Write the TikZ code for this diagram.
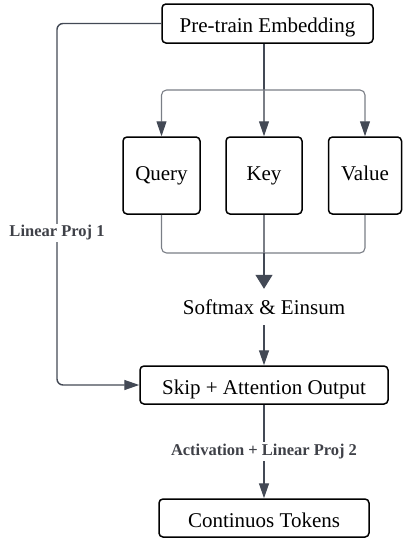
\documentclass[tikz,border=0pt]{standalone}
\usepackage{fontspec}
\setmainfont{Liberation Serif}
\usetikzlibrary{arrows.meta,calc}
\definecolor{linec}{HTML}{434955}
\definecolor{busc}{HTML}{7A7E86}
\definecolor{labc}{HTML}{3F4148}
\tikzset{
  box/.style={draw=black, line width=1.5pt, rounded corners=4pt, inner sep=0pt,
    font=\fontsize{21}{25}\selectfont, text height=14pt, text depth=4.5pt},
  widebox/.style={box, text height=20pt, text depth=2pt},
  conn/.style={draw=linec, line width=1.4pt},
  bus/.style={draw=busc, line width=1.1pt, rounded corners=5pt},
  smalltip/.style={-{Triangle[length=15pt,width=10pt,color=linec]}},
  bigtip/.style={-{Triangle[length=14pt,width=17pt,color=linec]}},
  lab/.style={fill=white, text=labc, font=\bfseries\fontsize{16.5}{19}\selectfont, inner sep=2pt}
}
\begin{document}
\begin{tikzpicture}[x=1pt,y=1pt]
\useasboundingbox (0,0) rectangle (403,-538);
\node[widebox, minimum width=211pt, minimum height=39pt] (pre) at (267.5,-23.5) {Pre-train Embedding};
\node[box, minimum width=77pt, minimum height=77pt] (query) at (161.5,-175.5) {Query};
\node[box, minimum width=76pt, minimum height=77pt] (key) at (264,-175.5) {Key};
\node[box, minimum width=73pt, minimum height=77pt] (value) at (365,-175.5) {Value};
\node[inner sep=0pt, minimum height=36pt, font=\fontsize{21}{25}\selectfont] (soft) at (264,-307) {Softmax \& Einsum};
\node[widebox, minimum width=248pt, minimum height=38pt] (skip) at (264,-385) {Skip + Attention Output};
\node[widebox, minimum width=210pt, minimum height=38pt] (cont) at (264,-518) {Continuos Tokens};
\coordinate (hub) at (264,-90);
\coordinate (hub2) at (264,-253);
\coordinate (lc) at (57,-24);
% top distribution
\draw[conn] (pre.south -| hub) -- (hub);
\draw[bus, smalltip] (hub) -| (query.north);
\draw[bus, smalltip] (hub) -| (value.north);
\draw[bus, smalltip] (hub) -- (key.north);
% bottom merge
\draw[bus] (query.south) |- (hub2);
\draw[bus] (value.south) |- (hub2);
\draw[bus] (key.south) -- (hub2);
\draw[conn, bigtip] (hub2) -- (soft.north);
\draw[conn, smalltip] (soft.south) -- (skip.north);
% skip connection
\draw[conn, rounded corners=6pt, smalltip] (pre.west) -- (pre.west -| lc) |- (skip.west);
\node[lab] (l1) at (57,-233) {Linear Proj 1};
% output
\draw[conn, smalltip] (skip.south) -- (cont.north) node[lab, midway] (l2) {Activation + Linear Proj 2};
\end{tikzpicture}
\end{document}
